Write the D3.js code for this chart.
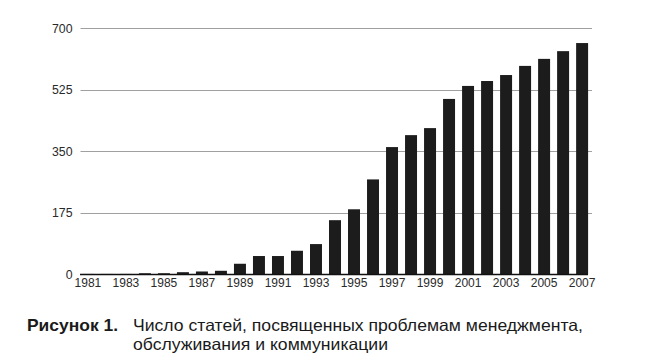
<!DOCTYPE html>
<html>
<head>
<meta charset="utf-8">
<script src="https://cdn.jsdelivr.net/npm/d3@7"></script>
<style>
  html, body { margin: 0; padding: 0; background: #fff; }
  svg { display: block; }
</style>
</head>
<body>
<svg id="chart" width="646" height="362"></svg>
<script>
const years = ["1981","1982","1983","1984","1985","1986","1987","1988","1989","1990",
  "1991","1992","1993","1994","1995","1996","1997","1998","1999","2000",
  "2001","2002","2003","2004","2005","2006","2007"];
const counts = [1, 1, 1, 3, 3, 6, 8, 10, 30, 52,
  52, 67, 86, 154, 185, 270, 362, 396, 416, 499,
  536, 550, 567, 593, 613, 635, 658];
const yTicks = [0, 175, 350, 525, 700];
const xTickLabels = ["1981","1983","1985","1987","1989","1991","1993","1995","1997","1999","2001","2003","2005","2007"];
const captionLabel = "Рисунок 1.";
const captionLines = ["Число статей, посвященных проблемам менеджмента,", "обслуживания и коммуникации"];

const svg = d3.select("#chart");
const font = "'Liberation Sans', Arial, sans-serif";

const x = d3.scaleBand().domain(years).range([80, 590]).paddingInner(0.37).paddingOuter(0.1);
const y = d3.scaleLinear().domain([0, 700]).range([274.3, 28.3]);

// grid lines
svg.append("g").selectAll("line").data(yTicks.filter(d => d > 0)).join("line")
  .attr("x1", 80.5).attr("x2", 592)
  .attr("y1", d => Math.round(y(d)) + 0.5).attr("y2", d => Math.round(y(d)) + 0.5)
  .attr("stroke", "#a0a0a0").attr("stroke-width", 1);

// y axis labels
const yAxis = d3.axisLeft(y).tickValues(yTicks).tickSize(0).tickPadding(0);
const gy = svg.append("g").attr("transform", "translate(72.5,0)").call(yAxis);
gy.select(".domain").remove();
gy.selectAll("text").attr("font-family", font).attr("font-size", 12.3).attr("fill", "#2a2a2a");

// bars
svg.append("g").selectAll("rect").data(years).join("rect")
  .attr("x", d => x(d))
  .attr("width", x.bandwidth())
  .attr("y", (d, i) => y(counts[i]))
  .attr("height", (d, i) => y(0) - y(counts[i]))
  .attr("fill", "#1c1c1c");

// bottom axis line
svg.append("line").attr("x1", 80).attr("x2", 588).attr("y1", 274.5).attr("y2", 274.5)
  .attr("stroke", "#111").attr("stroke-width", 1.4);

// x axis labels
const xAxis = d3.axisBottom(x).tickValues(xTickLabels).tickSize(0).tickPadding(0);
const gx = svg.append("g").attr("transform", "translate(0,278.5)").call(xAxis);
gx.select(".domain").remove();
gx.selectAll("text").attr("font-family", font).attr("font-size", 12).attr("fill", "#2a2a2a");

// caption
const cap = svg.append("g").attr("font-family", font).attr("fill", "#1a1a1a");
cap.append("text").attr("x", 27).attr("y", 331).attr("font-size", 17).attr("font-weight", "bold")
  .attr("textLength", 91).attr("lengthAdjust", "spacingAndGlyphs").text(captionLabel);
const lineLengths = [450, 255];
cap.selectAll("text.line").data(captionLines).join("text").attr("class", "line")
  .attr("x", 133).attr("y", (d, i) => 331 + i * 18.8)
  .attr("font-size", 16.5)
  .attr("textLength", (d, i) => lineLengths[i]).attr("lengthAdjust", "spacingAndGlyphs")
  .text(d => d);
</script>
</body>
</html>
